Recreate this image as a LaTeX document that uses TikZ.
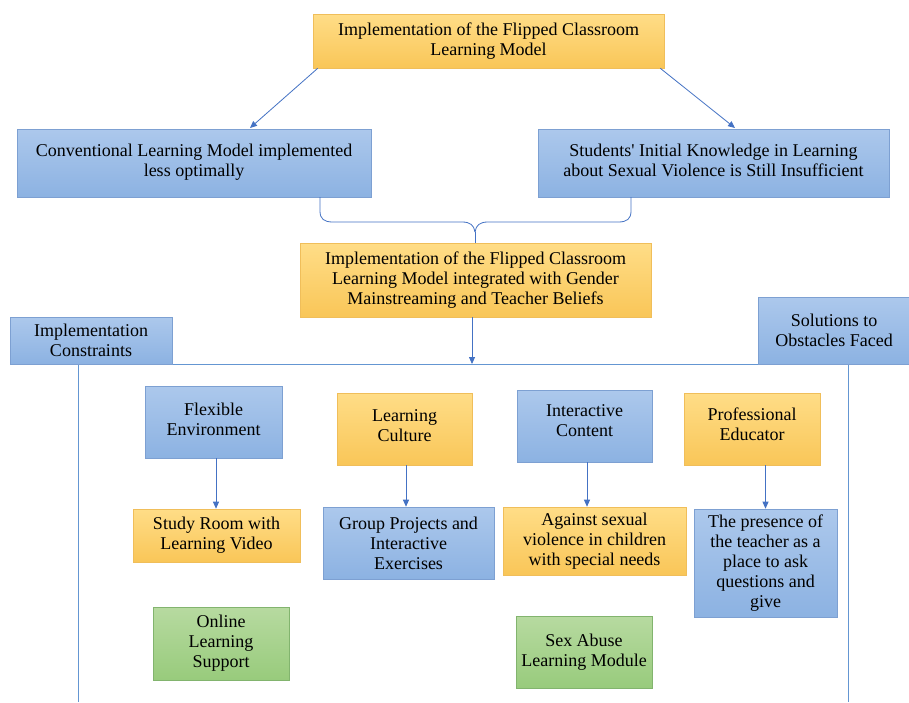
\documentclass[tikz,border=0pt]{standalone}
\usepackage{fontspec}
\setmainfont{Liberation Serif}[Ligatures=TeXOff]
\newfontfamily\tms{Liberation Serif}[Ligatures=TeXOff]
\usetikzlibrary{arrows.meta,calc}
\definecolor{ytop}{RGB}{255,221,135}
\definecolor{ybot}{RGB}{249,198,88}
\definecolor{yline}{RGB}{240,190,90}
\definecolor{btop}{RGB}{172,200,236}
\definecolor{bbot}{RGB}{140,178,226}
\definecolor{bline}{RGB}{125,160,210}
\definecolor{gtop}{RGB}{183,218,160}
\definecolor{gbot}{RGB}{152,203,124}
\definecolor{gline}{RGB}{130,180,110}
\definecolor{conn}{RGB}{68,114,196}
\definecolor{frame}{RGB}{100,150,210}
\tikzset{
  x=1pt,y=-1pt,
  every node/.style={font=\tms\fontsize{18}{20}\selectfont, align=center, inner sep=0pt},
  ybox/.style={draw=yline, line width=0.6pt, top color=ytop, bottom color=ybot},
  bbox/.style={draw=bline, line width=0.6pt, top color=btop, bottom color=bbot},
  gbox/.style={draw=gline, line width=0.6pt, top color=gtop, bottom color=gbot},
  arr/.style={draw=conn, line width=0.8pt, -{Triangle[length=7pt,width=6pt]}},
  ln/.style={draw=conn, line width=0.8pt},
  fr/.style={draw=frame, line width=1pt},
}
\begin{document}
\begin{tikzpicture}
\useasboundingbox (0,0) rectangle (909,702);
\fill[white] (0,0) rectangle (909,702);
% top
\node[ybox, minimum width=351, minimum height=54] (T) at (488.5,41) {Implementation of the Flipped Classroom\\Learning Model};
\node[bbox, minimum width=354, minimum height=68] (L) at (194,163) {Conventional Learning Model implemented\\less optimally\\[-14pt]};
\node[bbox, minimum width=351, minimum height=68] (R) at (713.5,163) {Students' Initial Knowledge in Learning\\about Sexual Violence is Still Insufficient\\[-14pt]};
\node[ybox, minimum width=351, minimum height=74] (M) at (475.5,280) {Implementation of the Flipped Classroom\\Learning Model integrated with Gender\\Mainstreaming and Teacher Beliefs};
% frame
\coordinate (hm) at (472,364);
\draw[fr] (10,364) -- (900,364);
\draw[fr] (78,364) -- (78,702);
\draw[fr] (848,364) -- (848,702);
\node[bbox, minimum width=162, minimum height=47] (IC) at (91,340.5) {Implementation\\Constraints};
\node[bbox, minimum width=151, minimum height=67] (SO) at (834,330.5) {Solutions to\\Obstacles Faced};
% arrows top
\draw[arr] ([xshift=5]T.south west) -- (250,128);
\draw[arr] ([xshift=-4]T.south east) -- (735,128);
% brace
\coordinate (bl) at (320,197);
\coordinate (br) at (631,197);
\draw[ln] (bl) -- (320,211) .. controls (320,219) and (324,222) .. (333,222) -- (462,222)
  .. controls (470,222) and (474,225) .. (475,232);
\draw[ln] (br) -- (631,211) .. controls (631,219) and (627,222) .. (618,222) -- (488,222)
  .. controls (480,222) and (476,225) .. (475,232);
\draw[ln] (475,232) -- (M.north -| 475,0);
\draw[arr] ([xshift=-3.5]M.south) -- (hm);
% row 1
\node[bbox, minimum width=137, minimum height=72] (F) at (213.5,422) {Flexible\\Environment\\[-14pt]};
\node[ybox, minimum width=135, minimum height=72] (LC) at (404.5,429) {Learning\\Culture\\[-14pt]};
\node[bbox, minimum width=135, minimum height=72] (IN) at (584.5,426) {Interactive\\Content\\[-10pt]};
\node[ybox, minimum width=136, minimum height=72] (PE) at (752,429) {Professional\\Educator\\[-10pt]};
% row 2
\node[ybox, minimum width=167, minimum height=53] (SR) at (216.5,535.5) {Study Room with\\Learning Video};
\node[bbox, minimum width=171, minimum height=72] (GP) at (408.5,543) {Group Projects and\\Interactive\\Exercises};
\node[ybox, minimum width=183, minimum height=68] (AS) at (594.5,541) {Against sexual\\violence in children\\with special needs};
\node[bbox, minimum width=143, minimum height=108] (PR) at (765.5,563) {The presence of\\the teacher as a\\place to ask\\questions and\\give};
% row 3
\node[gbox, minimum width=136, minimum height=73] (OL) at (221,643.5) {Online\\Learning\\Support};
\node[gbox, minimum width=136, minimum height=72] (SA) at (584,652) {Sex Abuse\\Learning Module};
% row arrows
\draw[arr] ([xshift=2.5]F.south) -- ([xshift=2.5]F.south |- SR.north);
\draw[arr] ([xshift=1.5]LC.south) -- ([xshift=1.5]LC.south |- GP.north);
\draw[arr] ([xshift=2.5]IN.south) -- ([xshift=2.5]IN.south |- AS.north);
\draw[arr] (PE.south -| PR.north) -- (PR.north);
\end{tikzpicture}
\end{document}
